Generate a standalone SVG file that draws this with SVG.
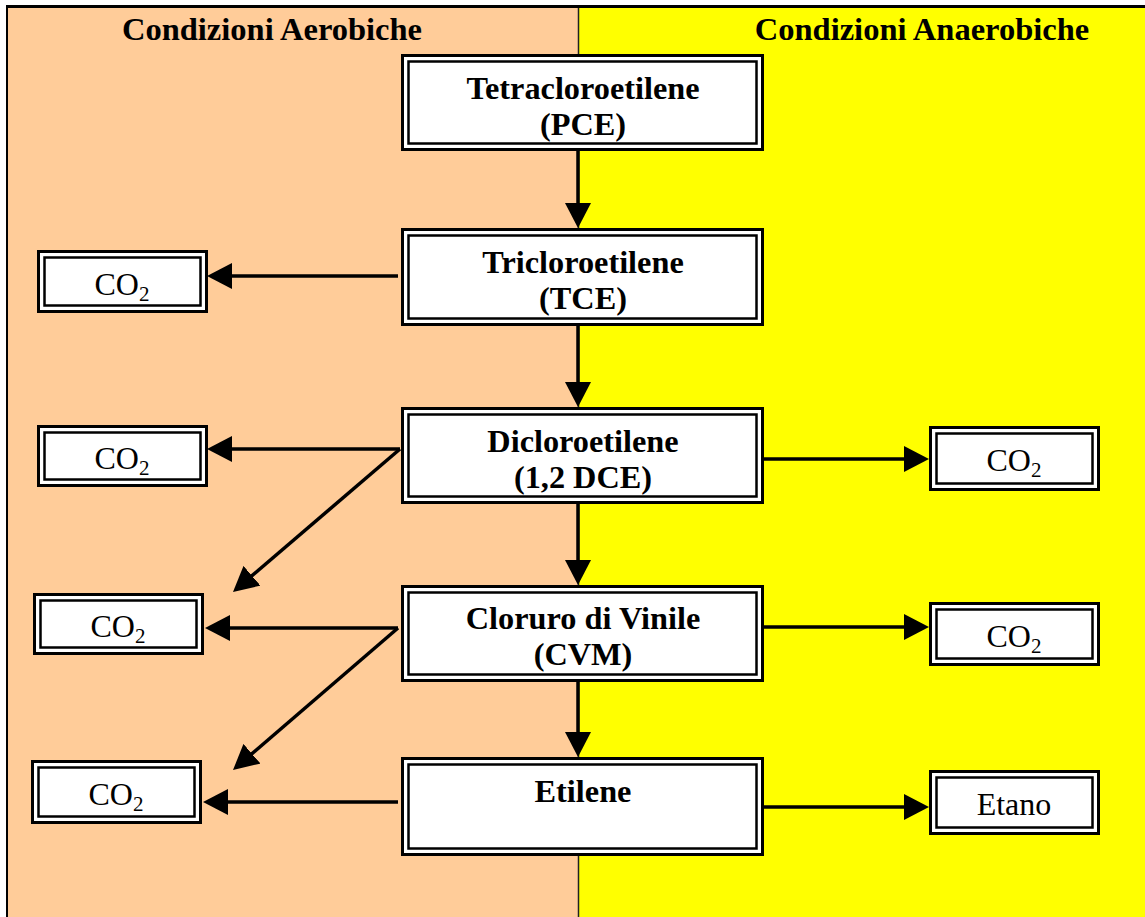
<svg xmlns="http://www.w3.org/2000/svg" width="1145" height="917" viewBox="0 0 1145 917">
  <style>
    .o { fill: #ffffff; stroke: #000000; stroke-width: 3; }
    .i { fill: none; stroke: #000000; stroke-width: 2.5; }
    .t { font-family: "Liberation Serif", "Times New Roman", serif; font-weight: bold; font-size: 32.3px; text-anchor: middle; fill: #000000; }
    .h { font-family: "Liberation Serif", "Times New Roman", serif; font-weight: bold; font-size: 32.5px; text-anchor: middle; fill: #000000; }
    .c { font-family: "Liberation Serif", "Times New Roman", serif; font-size: 32px; text-anchor: middle; fill: #000000; }
    .sub { font-size: 21px; }
    .a { stroke: #000000; stroke-width: 3.5; fill: none; marker-end: url(#ah); }
  </style>
  <defs>
    <marker id="ah" viewBox="0 0 25 26" refX="13" refY="13" markerWidth="25" markerHeight="26" markerUnits="userSpaceOnUse" orient="auto">
      <path d="M0,0 L25,13 L0,26 Z" fill="#000000"/>
    </marker>
  </defs>

  <g id="background">
    <rect x="8" y="8" width="570" height="909" fill="#FFCC99"/>
    <rect x="578" y="8" width="567" height="909" fill="#FFFF00"/>
    <line x1="578.5" y1="8" x2="578.5" y2="917" stroke="#222222" stroke-width="1.5"/>
    <line x1="7" y1="6.5" x2="1145" y2="6.5" stroke="#000000" stroke-width="3"/>
    <line x1="7" y1="5" x2="7" y2="917" stroke="#000000" stroke-width="2"/>
    <text class="h" x="272" y="40">Condizioni Aerobiche</text>
    <text class="h" x="922" y="40">Condizioni Anaerobiche</text>
  </g>

  <g id="connectors">
    <line class="a" x1="578" y1="150" x2="578" y2="216"/>
    <line class="a" x1="578" y1="325" x2="578" y2="395"/>
    <line class="a" x1="578" y1="503" x2="578" y2="573"/>
    <line class="a" x1="578" y1="681" x2="578" y2="745"/>
    <line class="a" x1="398" y1="276" x2="219" y2="276"/>
    <line class="a" x1="400" y1="449" x2="219" y2="449"/>
    <line class="a" x1="398" y1="628" x2="217" y2="628"/>
    <line class="a" x1="398" y1="802" x2="215" y2="802"/>
    <line class="a" x1="400" y1="449" x2="242.1" y2="584.2"/>
    <line class="a" x1="398" y1="628" x2="242.1" y2="762.2"/>
    <line class="a" x1="763" y1="459" x2="917" y2="459"/>
    <line class="a" x1="763" y1="627" x2="917" y2="627"/>
    <line class="a" x1="763" y1="807" x2="917" y2="807"/>
  </g>

  <g id="pce">
    <rect class="o" x="402.5" y="55.5" width="360" height="94"/>
    <rect class="i" x="408.5" y="61.5" width="348" height="82"/>
    <text class="t" x="583" y="99">Tetracloroetilene</text>
    <text class="t" x="583" y="135">(PCE)</text>
  </g>
  <g id="tce">
    <rect class="o" x="402.5" y="229.5" width="360" height="95"/>
    <rect class="i" x="408.5" y="235.5" width="348" height="83"/>
    <text class="t" x="583" y="273">Tricloroetilene</text>
    <text class="t" x="583" y="309">(TCE)</text>
  </g>
  <g id="dce">
    <rect class="o" x="402.5" y="408.5" width="360" height="94"/>
    <rect class="i" x="408.5" y="414.5" width="348" height="82"/>
    <text class="t" x="583" y="452">Dicloroetilene</text>
    <text class="t" x="583" y="488">(1,2 DCE)</text>
  </g>
  <g id="cvm">
    <rect class="o" x="402.5" y="586.5" width="360" height="94"/>
    <rect class="i" x="408.5" y="592.5" width="348" height="82"/>
    <text class="t" x="583" y="629">Cloruro di Vinile</text>
    <text class="t" x="583" y="665">(CVM)</text>
  </g>
  <g id="etilene">
    <rect class="o" x="402.5" y="758.5" width="360" height="96"/>
    <rect class="i" x="408.5" y="764.5" width="348" height="84"/>
    <text class="t" x="583" y="802">Etilene</text>
  </g>

  <g id="co2-tce">
    <rect class="o" x="38.5" y="251.5" width="168" height="60"/>
    <rect class="i" x="44.5" y="257.5" width="156" height="48"/>
    <text class="c" x="122" y="295">CO<tspan class="sub" dy="6">2</tspan></text>
  </g>
  <g id="co2-dce-a">
    <rect class="o" x="38.5" y="426.5" width="168" height="59"/>
    <rect class="i" x="44.5" y="432.5" width="156" height="47"/>
    <text class="c" x="122" y="469">CO<tspan class="sub" dy="6">2</tspan></text>
  </g>
  <g id="co2-dce-b">
    <rect class="o" x="34.5" y="594.5" width="168" height="59"/>
    <rect class="i" x="40.5" y="600.5" width="156" height="47"/>
    <text class="c" x="118" y="637">CO<tspan class="sub" dy="6">2</tspan></text>
  </g>
  <g id="co2-cvm">
    <rect class="o" x="32.5" y="761.5" width="168" height="61"/>
    <rect class="i" x="38.5" y="767.5" width="156" height="49"/>
    <text class="c" x="116" y="805">CO<tspan class="sub" dy="6">2</tspan></text>
  </g>
  <g id="co2-dce-r">
    <rect class="o" x="930.5" y="427.5" width="168" height="62"/>
    <rect class="i" x="936.5" y="433.5" width="156" height="50"/>
    <text class="c" x="1014" y="471">CO<tspan class="sub" dy="6">2</tspan></text>
  </g>
  <g id="co2-cvm-r">
    <rect class="o" x="930.5" y="603.5" width="168" height="61"/>
    <rect class="i" x="936.5" y="609.5" width="156" height="49"/>
    <text class="c" x="1014" y="647">CO<tspan class="sub" dy="6">2</tspan></text>
  </g>
  <g id="etano">
    <rect class="o" x="930.5" y="771.5" width="168" height="62"/>
    <rect class="i" x="936.5" y="777.5" width="156" height="50"/>
    <text class="c" x="1014" y="815">Etano</text>
  </g>
</svg>
